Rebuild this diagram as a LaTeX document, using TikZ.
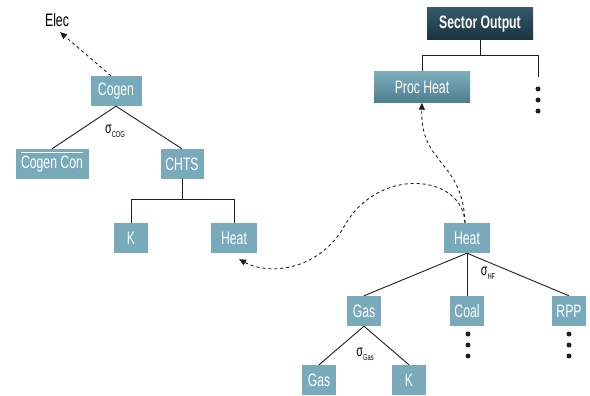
\documentclass[tikz,border=0pt]{standalone}
\usepackage{fontspec}
\setmainfont{Liberation Sans}[FakeStretch=0.68]
\usetikzlibrary{arrows.meta,positioning}
\definecolor{boxteal}{RGB}{120,170,187}
\definecolor{gradtop}{RGB}{126,175,190}
\definecolor{gradbot}{RGB}{78,125,141}
\definecolor{darktop}{RGB}{50,90,106}
\definecolor{darkbot}{RGB}{27,50,62}
\definecolor{ink}{RGB}{30,30,30}
\newcommand{\sigsub}[1]{σ\raisebox{-4pt}{\fontsize{8.5}{9}\selectfont #1}}

\begin{document}
\begin{tikzpicture}[x=1pt, y=-1pt,
    box/.style={fill=boxteal, text=white, minimum height=30pt, inner xsep=4pt,
                font=\fontsize{18}{20}\selectfont},
    procbox/.style={box, top color=gradtop, bottom color=gradbot},
    sectorbox/.style={box, top color=darktop, bottom color=darkbot,
                font=\fontsize{18}{20}\selectfont\bfseries},
    branch/.style={ink, line width=0.9pt},
    flow/.style={ink, line width=0.9pt, dashed, dash pattern=on 3pt off 3pt,
                -{Triangle[length=7pt, width=6pt]}},
    sig/.style={font=\fontsize{16}{18}\selectfont, inner sep=0pt},
    dot/.style={circle, fill=ink, inner sep=0pt, minimum size=5pt}
]
\useasboundingbox (0,0) rectangle (590,396);

% left tree
\node (elec) at (57,20) {\fontsize{18}{20}\selectfont Elec};
\node[box, minimum width=51pt] (cogen) at (116,91) {Cogen};
\node[box, minimum width=73pt] (cogencon) at (52,164) {Cogen Con};
\draw[white, line width=1.2pt] ([xshift=6pt,yshift=-4pt]cogencon.north west)
    -- ([xshift=-6pt,yshift=-4pt]cogencon.north east);
\node[box, minimum width=43pt] (chts) at (182,164) {CHTS};
\node[box, minimum width=34pt] (kL) at (131,238) {K};
\node[box, minimum width=46pt] (heatL) at (234,238) {Heat};
\node[sig] (sigcog) at (115,131) {\sigsub{COG}};

\draw[branch] (cogen.south) -- (cogencon.north);
\draw[branch] (cogen.south) -- (chts.north);
\draw[branch] (chts.south) -- ++(0,20) -| (kL.north);
\draw[branch] (chts.south) -- ++(0,20) -| (heatL.north);
\draw[flow] ([xshift=-5pt]cogen.north) -- ([xshift=3pt,yshift=-2pt]elec.south);

% sector output
\node[sectorbox, minimum width=106pt, minimum height=32pt] (sector) at (480,24) {Sector Output};
\node[procbox, minimum width=96pt, minimum height=31pt] (proc) at (422,87) {Proc Heat};
\coordinate (more) at (538,77);
\draw[branch] (sector.south) -- ++(0,15) -| (proc.north);
\draw[branch] (sector.south) -- ++(0,15) -| (more);
\foreach \y in {89,100,111}
    \node[dot] at (538,\y) {};

% heat tree
\node[box, minimum width=46pt] (heatR) at (467,238) {Heat};
\node[box, minimum width=34pt] (gasA) at (364,311) {Gas};
\node[box, minimum width=33pt] (coal) at (467,311) {Coal};
\node[box, minimum width=34pt] (rpp) at (569,311) {RPP};
\node[box, minimum width=34pt] (gasB) at (319,380) {Gas};
\node[box, minimum width=34pt] (kR) at (409,380) {K};
\node[sig] (sighf) at (488,273) {\sigsub{HF}};
\node[sig] (siggas) at (365,354) {\sigsub{Gas}};

\draw[branch] (heatR.south) -- (gasA.north);
\draw[branch] (heatR.south) -- (coal.north);
\draw[branch] (heatR.south) -- (rpp.north);
\draw[branch] (gasA.south) -- (gasB.north);
\draw[branch] (gasA.south) -- (kR.north);
\foreach \y in {334,345,356} {
    \node[dot] at (468,\y) {};
    \node[dot] at (569,\y) {};
}

% heat flows
\draw[flow] ([xshift=-2pt]heatR.north) .. controls (463,160) and (420,165) .. (proc.south);
\draw[flow] ([xshift=-2pt]heatR.north) .. controls (463,175) and (380,165) .. (345,225)
    .. controls (320,270) and (270,276) .. ([xshift=5pt,yshift=-6pt]heatL.south);
\end{tikzpicture}
\end{document}
